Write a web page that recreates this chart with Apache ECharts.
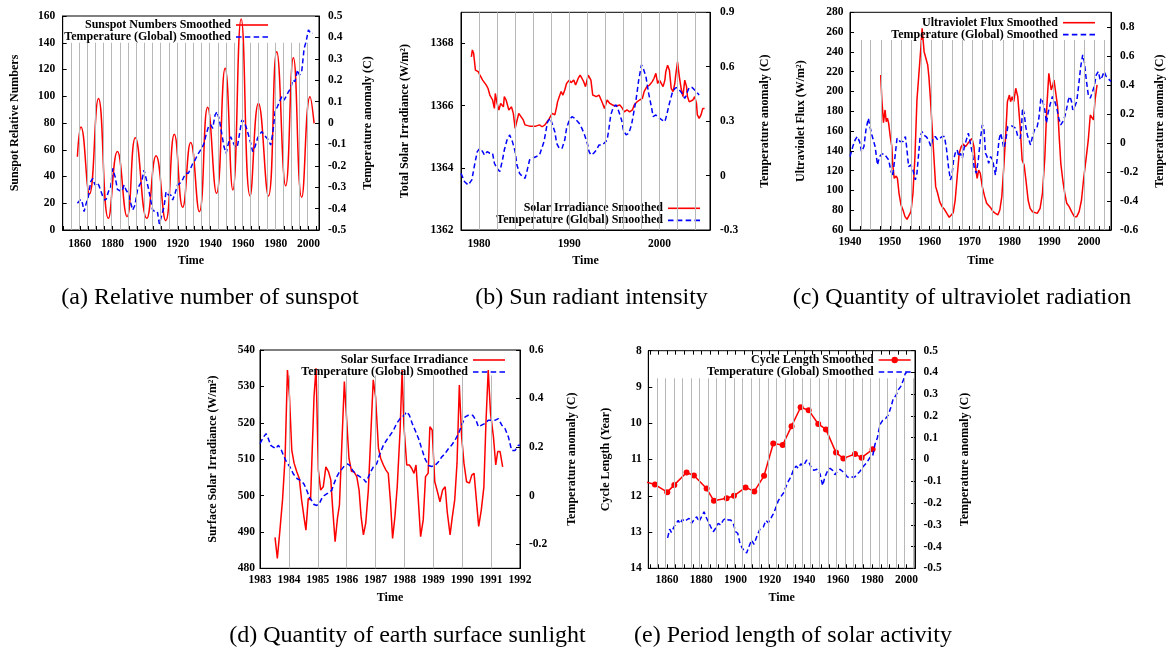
<!DOCTYPE html>
<html><head><meta charset="utf-8">
<script src="https://cdn.jsdelivr.net/npm/echarts@6/dist/echarts.min.js"></script>
<style>html,body{margin:0;padding:0;background:#fff}#c{width:1171px;height:653px}</style>
</head><body><div id="c"></div><script>
// ---------- (a) sunspots ----------
const A_SUNSPOT = [[1858.5,54.8],[1860.7,77],[1865.9,27],[1871.4,98.4],[1877.5,8.7],[1883.0,58.6],[1888.9,10],[1894.0,69],[1901.0,8.7],[1906.7,55.6],[1912.6,7],[1917.9,71.5],[1923.0,17],[1927.9,65.5],[1933.2,13.7],[1938.3,91.7],[1943.7,27.4],[1949.0,120.9],[1953.7,30],[1958.8,157.8],[1964.3,25.4],[1969.4,94.7],[1975.5,25.4],[1980.6,133.3],[1986.1,33],[1990.8,128.8],[1995.9,24.4],[2001.0,99.7],[2003.5,79.7]];
const A_TEMP = [[1858.5,-0.375],[1859.5,-0.383],[1860.5,-0.357],[1861.6,-0.375],[1862.6,-0.414],[1863.8,-0.378],[1865.2,-0.344],[1866.7,-0.274],[1867.9,-0.259],[1869.3,-0.29],[1870.8,-0.279],[1871.8,-0.294],[1873.4,-0.329],[1874.8,-0.36],[1876.1,-0.357],[1877.5,-0.321],[1878.9,-0.298],[1880.1,-0.212],[1881.6,-0.251],[1883.0,-0.31],[1884.2,-0.305],[1885.7,-0.321],[1887.1,-0.29],[1888.3,-0.313],[1889.7,-0.329],[1891.2,-0.375],[1892.4,-0.407],[1893.8,-0.383],[1895.3,-0.313],[1896.5,-0.29],[1897.9,-0.274],[1899.3,-0.22],[1900.6,-0.259],[1902.0,-0.305],[1903.4,-0.36],[1904.6,-0.407],[1906.1,-0.414],[1907.5,-0.414],[1908.7,-0.472],[1910.2,-0.43],[1911.6,-0.391],[1912.8,-0.321],[1914.2,-0.336],[1915.7,-0.336],[1916.9,-0.36],[1918.3,-0.329],[1919.8,-0.29],[1921.0,-0.298],[1922.4,-0.274],[1923.8,-0.251],[1925.1,-0.235],[1926.5,-0.235],[1927.9,-0.212],[1929.2,-0.188],[1930.6,-0.173],[1932.0,-0.15],[1933.2,-0.157],[1934.7,-0.118],[1936.1,-0.095],[1937.3,-0.056],[1938.8,-0.017],[1940.2,-0.009],[1941.4,-0.025],[1942.8,0.037],[1944.1,0.053],[1945.5,0.014],[1946.9,-0.048],[1948.3,-0.111],[1949.6,-0.142],[1951.0,-0.095],[1952.4,-0.064],[1953.7,-0.087],[1955.1,-0.111],[1956.5,-0.111],[1957.7,-0.056],[1959.2,0.014],[1960.6,0.006],[1961.8,-0.017],[1963.3,-0.056],[1964.7,-0.095],[1965.9,-0.134],[1967.3,-0.111],[1968.8,-0.072],[1970.0,-0.056],[1971.4,-0.04],[1972.9,-0.056],[1974.1,-0.064],[1975.5,-0.079],[1976.9,-0.103],[1978.2,-0.048],[1979.6,0.053],[1981.0,0.076],[1982.3,0.1],[1983.7,0.123],[1985.1,0.107],[1986.3,0.123],[1987.8,0.146],[1989.2,0.162],[1990.4,0.201],[1991.8,0.193],[1993.3,0.248],[1994.5,0.224],[1995.9,0.24],[1997.4,0.349],[1998.6,0.38],[2000.0,0.435],[2001.4,0.419],[2002.7,0.419]];
const A_GRAY = [1854.5,1859.5,1864.5,1869.5,1874.5,1879.5,1884.5,1889.5,1894.5,1899.5,1904.5,1909.5,1914.5,1919.5,1924.5,1929.5,1934.5,1939.5,1944.5,1949.5,1954.5,1959.5,1964.5,1969.5,1974.5,1979.5,1984.5,1989.5,1994.5,1999.5];
const A_X_LABELS = [1860,1880,1900,1920,1940,1960,1980,2000];
const A_X_TICKS = [1850,1855,1860,1865,1870,1875,1880,1885,1890,1895,1900,1905,1910,1915,1920,1925,1930,1935,1940,1945,1950,1955,1960,1965,1970,1975,1980,1985,1990,1995,2000,2005];
const A_YL_LABELS = [0,20,40,60,80,100,120,140,160];
const A_YR_LABELS = [-0.5,-0.4,-0.3,-0.2,-0.1,0,0.1,0.2,0.3,0.4,0.5];

// ---------- (b) total solar irradiance ----------
const B_IRR = [[1979.15,1367.57],[1979.26,1367.79],[1979.4,1367.68],[1979.6,1367.14],[1979.9,1367.09],[1980.1,1366.98],[1980.4,1366.82],[1980.6,1366.88],[1980.8,1366.66],[1981.0,1366.55],[1981.2,1366.34],[1981.5,1366.18],[1981.7,1365.91],[1981.8,1366.39],[1982.0,1366.07],[1982.2,1365.86],[1982.4,1366.07],[1982.7,1365.96],[1982.8,1366.29],[1983.0,1366.18],[1983.3,1365.86],[1983.6,1365.96],[1983.8,1365.75],[1984.0,1365.27],[1984.2,1365.27],[1984.4,1365.75],[1984.6,1365.7],[1984.9,1365.54],[1985.1,1365.38],[1985.3,1365.34],[1985.6,1365.34],[1986.0,1365.34],[1986.3,1365.34],[1986.7,1365.38],[1987.0,1365.32],[1987.3,1365.38],[1987.5,1365.43],[1987.8,1365.59],[1988.1,1365.75],[1988.4,1365.7],[1988.6,1365.96],[1988.7,1366.12],[1988.9,1366.29],[1989.1,1366.45],[1989.3,1366.34],[1989.5,1366.5],[1989.7,1366.71],[1990.0,1366.82],[1990.2,1366.74],[1990.5,1366.82],[1990.7,1366.66],[1991.0,1366.88],[1991.2,1366.98],[1991.4,1366.88],[1991.6,1366.77],[1991.8,1366.61],[1992.1,1366.98],[1992.3,1367.04],[1992.4,1366.82],[1992.6,1366.34],[1993.0,1366.29],[1993.3,1366.34],[1993.5,1366.29],[1993.7,1366.07],[1993.9,1365.91],[1994.2,1366.18],[1994.5,1366.07],[1994.8,1366.02],[1995.2,1365.99],[1995.6,1366.02],[1995.9,1365.91],[1996.1,1365.8],[1996.4,1365.86],[1996.7,1365.8],[1997.0,1365.86],[1997.2,1366.02],[1997.5,1366.12],[1997.8,1366.18],[1998.1,1366.23],[1998.3,1366.45],[1998.6,1366.61],[1998.9,1366.66],[1999.2,1366.77],[1999.4,1366.88],[1999.6,1367.04],[1999.8,1366.71],[2000.0,1366.82],[2000.2,1366.88],[2000.4,1366.61],[2000.6,1366.82],[2000.7,1367.09],[2000.9,1367.3],[2001.1,1367.14],[2001.3,1366.55],[2001.5,1366.45],[2001.7,1366.71],[2001.8,1366.98],[2002.0,1367.41],[2002.2,1366.93],[2002.4,1366.55],[2002.6,1366.29],[2002.8,1366.82],[2003.0,1366.61],[2003.1,1366.29],[2003.3,1366.12],[2003.5,1366.18],[2003.7,1366.18],[2003.9,1366.29],[2004.1,1366.07],[2004.2,1365.7],[2004.4,1365.59],[2004.6,1365.7],[2004.8,1365.91],[2005.0,1365.91]];
const B_TEMP = [[1978.0,0.012],[1978.4,-0.034],[1978.8,-0.052],[1979.2,-0.024],[1979.5,0.058],[1979.8,0.132],[1980.1,0.15],[1980.4,0.132],[1980.6,0.113],[1980.9,0.132],[1981.2,0.123],[1981.5,0.123],[1981.7,0.068],[1982.0,0.04],[1982.3,0.022],[1982.6,0.086],[1982.8,0.141],[1983.1,0.196],[1983.4,0.224],[1983.7,0.187],[1984.0,0.132],[1984.2,0.058],[1984.5,0.012],[1984.8,-0.006],[1985.1,-0.015],[1985.3,0.022],[1985.6,0.086],[1985.9,0.095],[1986.3,0.104],[1986.7,0.113],[1986.9,0.123],[1987.2,0.187],[1987.4,0.242],[1987.6,0.297],[1987.9,0.316],[1988.1,0.306],[1988.4,0.242],[1988.6,0.178],[1988.9,0.15],[1989.2,0.15],[1989.5,0.196],[1989.7,0.26],[1990.0,0.306],[1990.3,0.325],[1990.6,0.316],[1990.8,0.306],[1991.1,0.288],[1991.4,0.26],[1991.7,0.224],[1992.0,0.178],[1992.2,0.132],[1992.4,0.113],[1992.7,0.123],[1993.0,0.141],[1993.3,0.169],[1993.4,0.159],[1993.7,0.169],[1993.9,0.159],[1994.2,0.196],[1994.4,0.26],[1994.6,0.334],[1994.9,0.38],[1995.2,0.389],[1995.5,0.352],[1995.8,0.306],[1996.0,0.251],[1996.3,0.224],[1996.6,0.233],[1996.9,0.279],[1997.1,0.334],[1997.4,0.417],[1997.7,0.527],[1998.0,0.61],[1998.2,0.591],[1998.5,0.545],[1998.8,0.453],[1999.1,0.38],[1999.3,0.325],[1999.6,0.334],[2000.0,0.316],[2000.3,0.306],[2000.6,0.297],[2000.8,0.334],[2001.1,0.398],[2001.4,0.453],[2001.7,0.481],[2002.0,0.486],[2002.2,0.486],[2002.5,0.453],[2002.8,0.426],[2003.0,0.444],[2003.1,0.463],[2003.3,0.486],[2003.6,0.486],[2003.9,0.472],[2004.1,0.463],[2004.4,0.444]];
const B_GRAY = [1980,1982,1984,1986,1988,1990,1992,1994,1996,1998,2000,2002,2004];
const B_X_LABELS = [1980,1990,2000];
const B_X_TICKS = [1978,1980,1982,1984,1986,1988,1990,1992,1994,1996,1998,2000,2002,2004];
const B_YL_LABELS = [1362,1364,1366,1368];
const B_YR_LABELS = [-0.3,0,0.3,0.6,0.9];

// ---------- (c) ultraviolet flux ----------
const C_UV = [[1947.7,216.7],[1948.0,191.4],[1948.4,168.5],[1948.8,181.3],[1949.1,169.5],[1949.4,172.9],[1949.7,167.8],[1950.1,154.3],[1950.5,144.2],[1950.7,127.4],[1951.1,112.2],[1951.6,114.6],[1951.9,112.2],[1952.3,97.1],[1952.8,85.3],[1953.3,80.2],[1953.8,73.5],[1954.3,70.8],[1954.8,72.8],[1955.3,78.5],[1955.8,97.1],[1956.3,134.1],[1956.8,191.4],[1957.3,218.3],[1957.8,245.3],[1958.1,263.8],[1958.6,240.2],[1959.0,238.5],[1959.5,226.8],[1959.8,215.0],[1960.2,191.4],[1960.6,164.4],[1961.0,137.5],[1961.5,103.8],[1962.0,97.1],[1962.5,88.6],[1963.1,83.6],[1963.7,80.9],[1964.3,76.8],[1964.9,72.8],[1965.4,75.2],[1965.9,77.5],[1966.4,90.3],[1966.9,113.9],[1967.4,137.5],[1967.9,144.2],[1968.4,146.9],[1969.0,144.2],[1969.6,147.6],[1970.1,149.3],[1970.6,152.6],[1971.1,144.2],[1971.5,124.0],[1971.9,112.2],[1972.3,120.6],[1972.7,117.3],[1973.2,103.8],[1973.8,93.7],[1974.3,87.0],[1974.8,87.0],[1975.4,81.9],[1975.9,78.5],[1976.5,76.8],[1977.1,75.2],[1977.6,80.2],[1978.1,93.7],[1978.6,124.0],[1979.1,157.7],[1979.5,189.7],[1980.0,196.4],[1980.3,189.7],[1980.7,194.8],[1981.1,189.7],[1981.6,203.2],[1982.1,194.8],[1982.7,164.4],[1983.2,130.7],[1983.7,125.7],[1984.2,108.8],[1984.7,90.3],[1985.2,81.9],[1985.8,78.5],[1986.3,76.8],[1987.0,76.8],[1987.7,81.9],[1988.3,97.1],[1988.9,134.1],[1989.4,184.7],[1989.9,218.3],[1990.2,216.7],[1990.5,201.5],[1990.9,206.6],[1991.2,211.6],[1991.7,209.9],[1992.1,184.7],[1992.5,154.3],[1992.9,127.4],[1993.4,110.5],[1993.9,97.1],[1994.4,87.0],[1995.0,83.6],[1995.6,78.5],[1996.3,73.5],[1996.9,73.5],[1997.5,78.5],[1998.1,90.3],[1998.6,110.5],[1999.2,130.7],[1999.8,151.0],[2000.3,176.2],[2000.8,174.5],[2001.1,171.2],[2001.5,191.4],[2002.0,206.6]];
const C_TEMP = [[1940.0,-0.094],[1940.7,-0.025],[1941.3,0.021],[1941.8,0.044],[1942.4,0.009],[1942.9,-0.06],[1943.5,-0.025],[1944.0,0.09],[1944.6,0.17],[1945.0,0.113],[1945.5,0.055],[1945.9,0.055],[1946.3,-0.025],[1946.9,-0.152],[1947.4,-0.094],[1948.0,-0.076],[1948.6,-0.076],[1949.1,-0.094],[1949.7,-0.117],[1950.2,-0.186],[1950.7,-0.232],[1951.3,-0.094],[1951.8,0.032],[1952.2,0.021],[1952.6,0.009],[1953.3,0.009],[1953.9,0.044],[1954.3,-0.048],[1954.7,-0.163],[1955.3,-0.152],[1955.8,-0.186],[1956.4,-0.255],[1956.8,-0.209],[1957.2,-0.083],[1957.6,0.044],[1958.1,0.078],[1958.5,0.055],[1959.1,0.044],[1959.7,0.021],[1960.3,-0.025],[1960.8,0.032],[1961.4,0.044],[1962.0,0.021],[1962.5,0.021],[1963.1,0.044],[1963.7,0.044],[1964.2,-0.037],[1964.7,-0.163],[1965.2,-0.255],[1965.6,-0.221],[1966.0,-0.117],[1966.4,-0.071],[1966.9,-0.048],[1967.3,-0.094],[1967.7,-0.071],[1968.2,-0.106],[1968.7,-0.025],[1969.2,0.021],[1969.7,0.067],[1970.2,-0.002],[1970.7,-0.071],[1971.2,-0.175],[1971.7,-0.209],[1972.2,-0.117],[1972.7,0.021],[1973.2,0.124],[1973.6,0.101],[1974.0,-0.071],[1974.4,-0.094],[1974.8,-0.14],[1975.3,-0.094],[1975.8,-0.117],[1976.1,-0.163],[1976.5,-0.221],[1976.9,-0.117],[1977.4,0.021],[1977.8,0.067],[1978.2,0.021],[1978.6,-0.037],[1979.1,0.021],[1979.6,0.113],[1980.1,0.124],[1980.6,0.117],[1981.1,0.117],[1981.6,0.101],[1982.1,0.044],[1982.7,0.032],[1983.0,0.09],[1983.3,0.239],[1983.7,0.205],[1984.1,0.113],[1984.5,0.055],[1984.9,0.021],[1985.3,-0.014],[1985.8,0.044],[1986.3,0.09],[1986.9,0.101],[1987.4,0.17],[1987.9,0.308],[1988.4,0.285],[1988.9,0.228],[1989.3,0.136],[1989.7,0.205],[1990.2,0.262],[1990.8,0.32],[1991.4,0.285],[1991.9,0.239],[1992.4,0.17],[1992.9,0.124],[1993.4,0.147],[1993.9,0.182],[1994.4,0.239],[1994.8,0.297],[1995.2,0.32],[1995.6,0.285],[1995.9,0.228],[1996.4,0.251],[1996.9,0.285],[1997.4,0.4],[1997.9,0.526],[1998.4,0.607],[1998.8,0.561],[1999.3,0.434],[1999.8,0.331],[2000.3,0.308],[2000.8,0.32],[2001.3,0.389],[2001.8,0.469],[2002.3,0.492],[2002.8,0.434],[2003.3,0.457],[2003.8,0.492],[2004.3,0.457],[2004.8,0.457],[2005.5,0.423]];
const C_GRAY = [1942.7,1945.2,1947.8,1950.3,1952.9,1955.4,1958.0,1960.5,1963.1,1965.6,1968.2,1970.7,1973.3,1975.8,1978.4,1980.9,1983.5,1986.0,1988.6,1991.1,1993.7,1996.2,1998.8,2001.3,2003.9];
const C_X_LABELS = [1940,1950,1960,1970,1980,1990,2000];
const C_X_TICKS = [1940,1942.5,1945,1947.5,1950,1952.5,1955,1957.5,1960,1962.5,1965,1967.5,1970,1972.5,1975,1977.5,1980,1982.5,1985,1987.5,1990,1992.5,1995,1997.5,2000,2002.5,2005];
const C_YL_LABELS = [60,80,100,120,140,160,180,200,220,240,260,280];
const C_YR_LABELS = [-0.6,-0.4,-0.2,0,0.2,0.4,0.6,0.8];

// ---------- (d) surface solar irradiance ----------
const D_SSI = [[1983.52,488.5],[1983.6,482.7],[1983.69,490.5],[1983.78,498.8],[1983.87,510.7],[1983.95,534.5],[1984.02,527.2],[1984.1,512.5],[1984.18,508.9],[1984.27,506.6],[1984.36,504.7],[1984.44,498.8],[1984.52,494.2],[1984.59,490.5],[1984.67,499.2],[1984.75,498.8],[1984.87,527.2],[1984.94,535.0],[1985.02,507.0],[1985.1,501.5],[1985.19,502.4],[1985.28,507.9],[1985.37,506.6],[1985.45,504.3],[1985.52,496.0],[1985.6,487.3],[1985.68,493.7],[1985.75,497.4],[1985.83,513.4],[1985.92,531.3],[1986.0,520.8],[1986.08,510.2],[1986.17,506.6],[1986.25,506.6],[1986.35,505.2],[1986.43,501.5],[1986.5,494.2],[1986.58,489.2],[1986.66,492.4],[1986.75,501.5],[1986.83,515.7],[1986.92,531.8],[1987.0,527.2],[1987.1,513.0],[1987.18,510.2],[1987.27,508.4],[1987.36,507.0],[1987.44,506.1],[1987.52,497.9],[1987.59,488.2],[1987.67,494.2],[1987.75,502.4],[1987.85,518.0],[1987.92,534.5],[1987.98,519.4],[1988.08,508.4],[1988.17,508.4],[1988.25,507.5],[1988.33,506.1],[1988.4,508.4],[1988.48,498.8],[1988.56,488.7],[1988.65,493.3],[1988.73,505.2],[1988.82,506.1],[1988.88,518.9],[1988.96,518.0],[1989.05,503.8],[1989.14,501.1],[1989.23,498.3],[1989.32,501.5],[1989.41,502.4],[1989.48,495.6],[1989.58,489.2],[1989.65,493.7],[1989.74,498.8],[1989.82,508.9],[1989.9,530.4],[1989.98,516.2],[1990.06,508.9],[1990.15,503.8],[1990.25,503.4],[1990.33,505.6],[1990.41,506.1],[1990.48,499.7],[1990.57,491.5],[1990.66,496.0],[1990.75,502.4],[1990.82,519.8],[1990.9,534.5],[1990.98,522.6],[1991.08,516.2],[1991.16,508.4],[1991.23,512.1],[1991.31,512.1],[1991.4,507.9]];
const D_TEMP = [[1983.0,0.214],[1983.12,0.241],[1983.21,0.255],[1983.29,0.234],[1983.37,0.207],[1983.46,0.2],[1983.55,0.193],[1983.63,0.207],[1983.72,0.193],[1983.81,0.166],[1983.92,0.138],[1984.04,0.117],[1984.15,0.09],[1984.29,0.069],[1984.41,0.062],[1984.52,0.048],[1984.62,0.021],[1984.71,-0.007],[1984.79,-0.021],[1984.87,-0.037],[1984.96,-0.041],[1985.05,-0.034],[1985.13,-0.014],[1985.22,0.0],[1985.31,0.007],[1985.4,0.014],[1985.48,0.021],[1985.56,0.048],[1985.65,0.076],[1985.75,0.097],[1985.84,0.11],[1985.93,0.124],[1986.02,0.131],[1986.11,0.124],[1986.21,0.103],[1986.3,0.09],[1986.39,0.083],[1986.48,0.076],[1986.58,0.069],[1986.67,0.055],[1986.75,0.076],[1986.83,0.097],[1986.92,0.117],[1987.04,0.131],[1987.15,0.172],[1987.27,0.207],[1987.38,0.228],[1987.5,0.248],[1987.62,0.269],[1987.73,0.297],[1987.85,0.317],[1987.96,0.327],[1988.08,0.345],[1988.17,0.331],[1988.27,0.297],[1988.37,0.269],[1988.49,0.234],[1988.58,0.2],[1988.71,0.152],[1988.83,0.124],[1988.94,0.12],[1989.06,0.124],[1989.17,0.138],[1989.29,0.159],[1989.4,0.172],[1989.52,0.193],[1989.63,0.207],[1989.75,0.228],[1989.87,0.255],[1989.98,0.29],[1990.1,0.324],[1990.21,0.331],[1990.36,0.331],[1990.48,0.31],[1990.56,0.283],[1990.67,0.29],[1990.79,0.297],[1990.9,0.31],[1991.02,0.31],[1991.13,0.31],[1991.25,0.317],[1991.37,0.29],[1991.48,0.276],[1991.6,0.241],[1991.71,0.186],[1991.83,0.186],[1991.94,0.207],[1992.0,0.207]];
const D_GRAY = [1984,1985,1986,1987,1988,1989,1990,1991];
const D_X_LABELS = [1983,1984,1985,1986,1987,1988,1989,1990,1991,1992];
const D_X_TICKS = [1983,1984,1985,1986,1987,1988,1989,1990,1991,1992];
const D_YL_LABELS = [480,490,500,510,520,530,540];
const D_YR_LABELS = [-0.2,0,0.2,0.4,0.6];

// ---------- (e) cycle length ----------
const E_CYCLE = [[1846,11.6],[1852.9,11.69],[1860.1,11.9],[1864.2,11.7],[1871.4,11.36],[1875.7,11.44],[1883.1,11.8],[1887.4,12.14],[1894.8,12.07],[1899.1,12.0],[1905.9,11.77],[1911.0,11.88],[1916.7,11.45],[1922.1,10.56],[1927.6,10.6],[1932.8,10.08],[1938.1,9.56],[1942.8,9.64],[1948.4,10.02],[1952.9,10.17],[1958.8,10.81],[1963.1,10.97],[1969.9,10.85],[1973.8,10.95],[1980.2,10.72]];
const E_TEMP = [[1860.3,-0.36],[1861.5,-0.32],[1862.5,-0.335],[1864,-0.31],[1865.2,-0.295],[1866.5,-0.28],[1867.5,-0.295],[1869,-0.275],[1870.1,-0.285],[1871.4,-0.278],[1872.8,-0.27],[1874.3,-0.293],[1875.7,-0.278],[1877.3,-0.263],[1878.6,-0.286],[1880.2,-0.263],[1881.6,-0.24],[1882.7,-0.263],[1884.1,-0.286],[1885.5,-0.309],[1887,-0.332],[1888.4,-0.316],[1889.9,-0.293],[1891.3,-0.301],[1892.9,-0.278],[1894.2,-0.27],[1895.8,-0.278],[1897.2,-0.278],[1898.7,-0.293],[1900.1,-0.332],[1901.3,-0.339],[1902.6,-0.385],[1904,-0.408],[1905.2,-0.42],[1906.5,-0.43],[1907.9,-0.4],[1909.4,-0.37],[1910.8,-0.39],[1912.4,-0.355],[1914.3,-0.32],[1916.3,-0.31],[1917.8,-0.28],[1919.2,-0.29],[1920.7,-0.27],[1922.1,-0.25],[1923.7,-0.22],[1925,-0.19],[1926.6,-0.17],[1928,-0.155],[1929.5,-0.125],[1930.9,-0.1],[1932.4,-0.08],[1933.8,-0.05],[1935.4,-0.03],[1936.7,-0.04],[1938.2,-0.02],[1939.7,-0.03],[1941.6,-0.003],[1942.8,-0.01],[1944.5,-0.04],[1945.9,-0.05],[1947.5,-0.045],[1949.4,-0.065],[1951,-0.12],[1952.3,-0.08],[1953.7,-0.055],[1955.3,-0.04],[1956.8,-0.05],[1958.2,-0.07],[1959.5,-0.055],[1961.1,-0.045],[1962.7,-0.055],[1964,-0.065],[1965.4,-0.08],[1967,-0.085],[1968.5,-0.08],[1969.9,-0.08],[1971.2,-0.067],[1972.8,-0.055],[1973.8,-0.04],[1976.7,-0.015],[1978.7,0.01],[1980.2,0.015],[1981.6,0.07],[1983,0.1],[1984.5,0.16],[1986.1,0.18],[1988,0.19],[1989.4,0.205],[1990.7,0.235],[1992.3,0.28],[1993.9,0.295],[1995.2,0.32],[1996.6,0.335],[1998.2,0.365],[1999.3,0.395],[2000.1,0.4]];
const E_GRAY = [1854,1859,1864,1869,1874,1879,1884,1889,1894,1899,1904,1909,1914,1919,1924,1929,1934,1939,1944,1949,1954,1959,1964,1969,1974,1979,1984,1989,1994,1999,2004];
const E_X_LABELS = [1860,1880,1900,1920,1940,1960,1980,2000];
const E_X_TICKS = [1850,1855,1860,1865,1870,1875,1880,1885,1890,1895,1900,1905,1910,1915,1920,1925,1930,1935,1940,1945,1950,1955,1960,1965,1970,1975,1980,1985,1990,1995,2000,2005];
const E_YL_LABELS = [8,9,10,11,12,13,14];
const E_YR_LABELS = [-0.5,-0.4,-0.3,-0.2,-0.1,0,0.1,0.2,0.3,0.4,0.5];

const TEMP_NAME = 'Temperature (Global) Smoothed';
const CAPTIONS = ['(a) Relative number of sunspot','(b) Sun radiant intensity','(c) Quantity of ultraviolet radiation','(d) Quantity of earth surface sunlight','(e) Period length of solar activity'];

// ---------- layout / style ----------
const SERIF = '"Liberation Serif","Times New Roman",Times,serif';
const RED = '#ff0000', BLUE = '#0000ff', GRAY = '#b8b8b8';
const TICKFONT = {fontFamily: SERIF, fontWeight: 'bold', fontSize: 11.5, color: '#000'};
const NAMEFONT = {fontFamily: SERIF, fontWeight: 'bold', fontSize: 12, color: '#000'};
const fmt = v => String(v);
const ICON_SOLID = 'path://M0,0h30v1.5h-30z';
const ICON_POINT = 'path://M0,2.25h30v1.5h-30z M15,0a3,3 0 1,1 0,6a3,3 0 1,1 0,-6z';
const ICON_DASH = 'path://M0,0h5v1.5h-5z M8,0h5v1.5h-5z M16,0h5v1.5h-5z M24,0h5v1.5h-5z';

const panels = [
  {grid: [62.7, 16, 256.3, 214], x: [1849.5, 2006.5, A_X_LABELS, A_X_TICKS], xGap: 25, xMargin: 8,
   yl: [0, 160, A_YL_LABELS], yr: [-0.5, 0.5, A_YR_LABELS], ylName: 'Sunspot Relative Numbers', ylGap: 42, yrGap: 43, ylMargin: 7.5, yrMargin: 9,
   main: {name: 'Sunspot Numbers Smoothed', data: A_SUNSPOT, smooth: 0.5}, temp: A_TEMP,
   gray: [A_GRAY, 0, 140], legend: [903, 19]},
  {grid: [461, 12.3, 249, 217.7], x: [1978, 2005.6, B_X_LABELS, B_X_TICKS], xGap: 25, xMargin: 8,
   yl: [1362, 1369, B_YL_LABELS], yr: [-0.3, 0.9, B_YR_LABELS], ylName: 'Total Solar Irradiance (W/m²)', ylGap: 50, yrGap: 49, ylMargin: 7.5, yrMargin: 10,
   main: {name: 'Solar Irradiance Smoothed', data: B_IRR}, temp: B_TEMP,
   gray: [B_GRAY, 1362, 1369], legend: [471, 202.3]},
  {grid: [850, 12.3, 261, 217.7], x: [1940, 2005.5, C_X_LABELS, C_X_TICKS], xGap: 25, xMargin: 6,
   yl: [60, 280, C_YL_LABELS], yr: [-0.6, 0.9, C_YR_LABELS], ylName: 'Ultraviolet Flux (W/m²)', ylGap: 43, yrGap: 43, ylMargin: 6.5, yrMargin: 9,
   main: {name: 'Ultraviolet Flux Smoothed', data: C_UV}, temp: C_TEMP,
   gray: [C_GRAY, 60, 252], legend: [76, 16.7]},
  {grid: [260, 350, 260, 218.3], x: [1983, 1992, D_X_LABELS, D_X_TICKS], xGap: 24, xMargin: 6,
   yl: [480, 540, D_YL_LABELS], yr: [-0.3, 0.6, D_YR_LABELS], ylName: 'Surface Solar Irradiance (W/m²)', ylGap: 41, yrGap: 46, ylMargin: 5, yrMargin: 9,
   main: {name: 'Solar Surface Irradiance', data: D_SSI}, temp: D_TEMP,
   gray: [D_GRAY, 480, 533], legend: [666, 354]},
  {grid: [648.3, 350.7, 266.7, 217.6], x: [1849, 2005, E_X_LABELS, E_X_TICKS], xGap: 24, xMargin: 6, topTicks: true,
   yl: [8, 14, E_YL_LABELS], ylInverse: true, yr: [-0.5, 0.5, E_YR_LABELS], ylName: 'Cycle Length (Year)', ylGap: 36, yrGap: 44, ylMargin: 6.5, yrMargin: 8.5,
   main: {name: 'Cycle Length Smoothed', data: E_CYCLE, symbol: true}, temp: E_TEMP,
   gray: [E_GRAY, 14, 8.76], legend: [260.3, 354]}
];

const option = {animation: false, backgroundColor: '#fff', grid: [], xAxis: [], yAxis: [], series: [], legend: [], graphic: []};
const axisLine = {show: true, onZero: false, lineStyle: {color: '#000', width: 1}};

panels.forEach((p, i) => {
  option.grid.push({left: p.grid[0], top: p.grid[1], width: p.grid[2], height: p.grid[3], show: true,
    borderColor: '#000', borderWidth: 1, backgroundColor: 'transparent', containLabel: false, outerBoundsMode: 'none'});
  option.xAxis.push({type: 'value', gridIndex: i, min: p.x[0], max: p.x[1], position: 'bottom',
    axisLine, splitLine: {show: false},
    axisTick: {show: true, inside: true, length: 4, customValues: p.x[3], lineStyle: {color: '#000'}},
    axisLabel: {show: true, customValues: p.x[2], margin: p.xMargin, formatter: fmt, ...TICKFONT},
    name: 'Time', nameLocation: 'middle', nameGap: p.xGap, nameTextStyle: NAMEFONT});
  const yli = option.yAxis.length;
  option.yAxis.push({type: 'value', gridIndex: i, min: p.yl[0], max: p.yl[1], position: 'left', inverse: !!p.ylInverse,
    axisLine, splitLine: {show: false},
    axisTick: {show: true, inside: true, length: 4, customValues: p.yl[2], lineStyle: {color: '#000'}},
    axisLabel: {show: true, customValues: p.yl[2], margin: p.ylMargin, formatter: fmt, ...TICKFONT},
    name: p.ylName, nameLocation: 'middle', nameRotate: 90, nameGap: p.ylGap, nameTextStyle: NAMEFONT});
  option.yAxis.push({type: 'value', gridIndex: i, min: p.yr[0], max: p.yr[1], position: 'right',
    axisLine, splitLine: {show: false},
    axisTick: {show: true, inside: true, length: 4, customValues: p.yr[2], lineStyle: {color: '#000'}},
    axisLabel: {show: true, customValues: p.yr[2], margin: p.yrMargin, align: 'left', formatter: fmt, ...TICKFONT},
    name: 'Temperature anomaly (C)', nameLocation: 'middle', nameRotate: 90, nameGap: p.yrGap, nameTextStyle: NAMEFONT});
  // grey reference lines
  option.series.push({type: 'line', xAxisIndex: i, yAxisIndex: yli, data: [], symbol: 'none', silent: true, z: 1,
    markLine: {silent: true, symbol: ['none', 'none'], animation: false, label: {show: false},
      lineStyle: {color: GRAY, width: 1, type: 'solid'}, emphasis: {disabled: true},
      data: p.gray[0].map(v => [{coord: [v, p.gray[1]]}, {coord: [v, p.gray[2]]}])}});
  option.series.push({type: 'line', name: p.main.name, xAxisIndex: i, yAxisIndex: yli, data: p.main.data,
    smooth: p.main.smooth || false, symbol: p.main.symbol ? 'circle' : 'none', symbolSize: 6, showSymbol: !!p.main.symbol,
    lineStyle: {color: RED, width: 1.5}, itemStyle: {color: RED}, z: 3, silent: true, clip: true});
  option.series.push({type: 'line', name: TEMP_NAME, xAxisIndex: i, yAxisIndex: yli + 1, data: p.temp,
    symbol: 'none', lineStyle: {color: BLUE, width: 1.5, type: [5, 3]}, itemStyle: {color: BLUE}, z: 4, silent: true, clip: true});
  option.legend.push({orient: 'vertical', align: 'right', right: p.legend[0], top: p.legend[1], padding: 0,
    itemWidth: 32, itemHeight: 8, itemGap: 0, selectedMode: false, itemStyle: {borderWidth: 0},
    data: [{name: p.main.name, icon: p.main.symbol ? ICON_POINT : ICON_SOLID}, {name: TEMP_NAME, icon: ICON_DASH}],
    textStyle: {fontFamily: SERIF, fontWeight: 'bold', fontSize: 12, color: '#000'}});
  if (p.topTicks) {
    option.xAxis.push({type: 'value', gridIndex: i, min: p.x[0], max: p.x[1], position: 'top',
      axisLine: {show: false, onZero: false}, splitLine: {show: false}, axisLabel: {show: false},
      axisTick: {show: true, inside: true, length: 4, customValues: p.x[3], lineStyle: {color: '#000'}}});
  }
});

const capPos = [[210, 298], [591.5, 298], [962, 298], [407.5, 636], [793, 636]];
CAPTIONS.forEach((t, i) => {
  option.graphic.push({type: 'text', x: capPos[i][0], y: capPos[i][1], silent: true,
    style: {text: t, fontFamily: SERIF, fontSize: 24, fill: '#000', align: 'center', verticalAlign: 'middle', textAlign: 'center', textVerticalAlign: 'middle'}});
});

const chart = echarts.init(document.getElementById('c'), null, {renderer: 'canvas'});
chart.setOption(option);
</script></body></html>
